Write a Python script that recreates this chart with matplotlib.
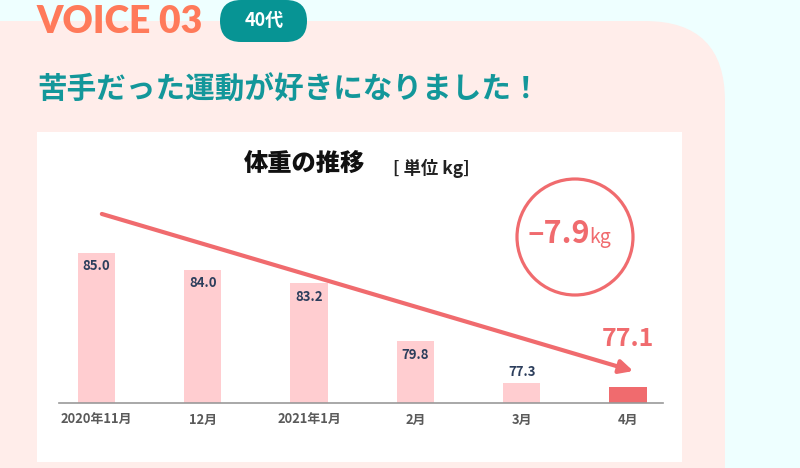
import matplotlib
matplotlib.use("Agg")
import matplotlib.pyplot as plt
from matplotlib.patches import FancyBboxPatch, Rectangle, Circle

plt.rcParams['font.family'] = ['Noto Sans CJK JP', 'DejaVu Sans']

# data
months = ["2020年11月", "12月", "2021年1月", "2月", "3月", "4月"]
weights = [85.0, 84.0, 83.2, 79.8, 77.3, 77.1]
diff_label = "–7.9"

pink = "#FFCDD0"
red = "#F06B6E"
navy = "#2C3E5C"
teal = "#13979A"

fig = plt.figure(figsize=(8, 4.68), dpi=100)

# background in pixel coordinates
bg = fig.add_axes([0, 0, 1, 1])
bg.set_xlim(0, 800)
bg.set_ylim(468, 0)
bg.axis("off")
bg.add_patch(Rectangle((0, 0), 800, 468, color="#EEFFFF", zorder=0))
bg.add_patch(FancyBboxPatch((-100, 21), 825, 600, boxstyle="round,pad=0,rounding_size=80",
                            fc="#FFEDEA", ec="none", zorder=1))
bg.add_patch(Rectangle((37, 132), 645, 330, fc="white", ec="none", zorder=2))
bg.add_patch(FancyBboxPatch((220, 0), 87, 42, boxstyle="round,pad=0,rounding_size=21",
                            fc="#079494", ec="none", zorder=3))
bg.text(36, 22, "VOICE 03", family=["Lato", "DejaVu Sans"], fontsize=26.8, fontweight="heavy",
        color="#FF7A5A", va="center", ha="left", zorder=4)
bg.text(264, 21, "40代", fontsize=13, fontweight="bold", color="white",
        va="center", ha="center", zorder=4)
bg.text(37, 90, "苦手だった運動が好きになりました！", fontsize=21.3, fontweight="bold",
        color=teal, va="center", ha="left", zorder=4)
bg.text(244, 165, "体重の推移", fontsize=17.5, fontweight="black", color="#111111",
        va="center", ha="left", zorder=4)
bg.text(393, 168, "[ 単位 kg]", fontsize=12.5, fontweight="bold", color="#222222",
        va="center", ha="left", zorder=4)
bg.add_patch(Circle((575, 237), 58, fill=False, ec=red, lw=2.3, zorder=4))
bg.text(590, 243, diff_label, fontsize=22, fontweight="bold", color=red,
        ha="right", va="baseline", zorder=5)
bg.text(589, 243, "kg", fontsize=14, color=red, ha="left", va="baseline", zorder=5)

# bar chart
ax = fig.add_axes([59 / 800, 65 / 468, 604 / 800, 271 / 468])
ax.patch.set_alpha(0)
x = list(range(len(weights)))
colors = [pink] * (len(weights) - 1) + [red]
ax.bar(x, weights, width=0.35, color=colors, bottom=0)
ax.set_xlim(-0.353, 5.33)
ax.set_ylim(76.15, 92.09)
for s in ["top", "right", "left"]:
    ax.spines[s].set_visible(False)
ax.spines["bottom"].set_color("#999999")
ax.spines["bottom"].set_linewidth(1.2)
ax.set_yticks([])
ax.set_xticks(x)
ax.set_xticklabels(months, fontsize=9.3, fontweight="bold", color="#5A5A5A")
ax.tick_params(axis="x", length=0, pad=7)

for i, v in enumerate(weights):
    if i < 4:
        ax.annotate(f"{v:.1f}", (i, v), xytext=(0, -10), textcoords="offset points",
                    ha="center", va="center", fontsize=9.5, fontweight="bold", color=navy)
    elif i == 4:
        ax.annotate(f"{v:.1f}", (i, v), xytext=(0, 8.6), textcoords="offset points",
                    ha="center", va="center", fontsize=9.5, fontweight="bold", color=navy)
    else:
        ax.annotate(f"{v:.1f}", (i, v), xytext=(0, 34.5), textcoords="offset points",
                    ha="center", va="center", fontsize=18, fontweight="semibold", color=red)

ax.annotate("", xy=(5.05, weights[-1] + 0.93), xytext=(0.05, weights[0] + 2.27),
            arrowprops=dict(arrowstyle="-|>,head_length=0.8,head_width=0.4", color=red,
                            lw=3, shrinkA=0, shrinkB=0), annotation_clip=False)

fig.savefig("out.png", dpi=100)
